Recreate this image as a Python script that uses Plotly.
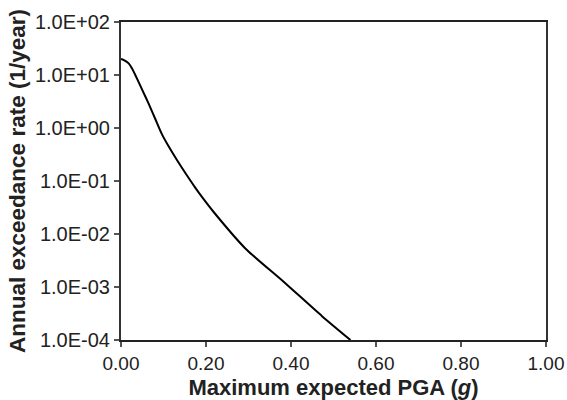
import plotly.graph_objects as go

pga = [0.0, 0.008, 0.018, 0.026, 0.0336, 0.0494, 0.065, 0.0807, 0.0965, 0.112, 0.132, 0.151,
       0.175, 0.194, 0.218, 0.292, 0.3826, 0.473, 0.54]
rate = [20.0, 18.9, 16.6, 13.3, 10.0, 5.37, 2.88, 1.48, 0.759, 0.452, 0.246, 0.143,
        0.0743, 0.0459, 0.026, 0.0054, 0.00126, 0.000282, 0.0001]

y_tickvals = [1e2, 1e1, 1e0, 1e-1, 1e-2, 1e-3, 1e-4]
y_ticktext = ["1.0E+02", "1.0E+01", "1.0E+00", "1.0E-01", "1.0E-02", "1.0E-03", "1.0E-04"]
x_tickvals = [0.0, 0.2, 0.4, 0.6, 0.8, 1.0]
x_ticktext = ["0.00", "0.20", "0.40", "0.60", "0.80", "1.00"]

fig = go.Figure()
fig.add_trace(go.Scatter(x=pga, y=rate, mode="lines",
                         line=dict(color="black", width=2, shape="spline", smoothing=0.7),
                         showlegend=False, hoverinfo="skip"))

font = "Liberation Sans, Arial, sans-serif"
fig.update_layout(
    width=567, height=400,
    margin=dict(l=121, r=21, t=22, b=60),
    paper_bgcolor="white", plot_bgcolor="white",
    font=dict(family=font, size=19, color="#222"),
    xaxis=dict(range=[0, 1], tickvals=x_tickvals, ticktext=x_ticktext,
               automargin=False,
               showgrid=False, zeroline=False, showline=True, linecolor="#222",
               linewidth=1.5, mirror=True, ticks="outside", ticklen=5,
               tickcolor="#555", tickwidth=1.5,
               title=dict(text="<b>Maximum expected PGA (<i>g</i>)</b>",
                          font=dict(size=22, color="#222"), standoff=9)),
    yaxis=dict(type="log", range=[-4, 2], tickvals=y_tickvals, ticktext=y_ticktext,
               automargin=False, tickfont=dict(size=20),
               showgrid=False, zeroline=False, showline=True, linecolor="#333",
               linewidth=2, mirror=True, ticks="outside", ticklen=5,
               tickcolor="#555", tickwidth=1.5,
               title=dict(text="<b>Annual exceedance rate (1/year)</b>",
                          font=dict(size=22.5, color="#222"), standoff=3)),
)
fig.write_html("out.html", config={"displayModeBar": False},
               post_script="document.body.style.margin='0';document.body.style.padding='0';")
